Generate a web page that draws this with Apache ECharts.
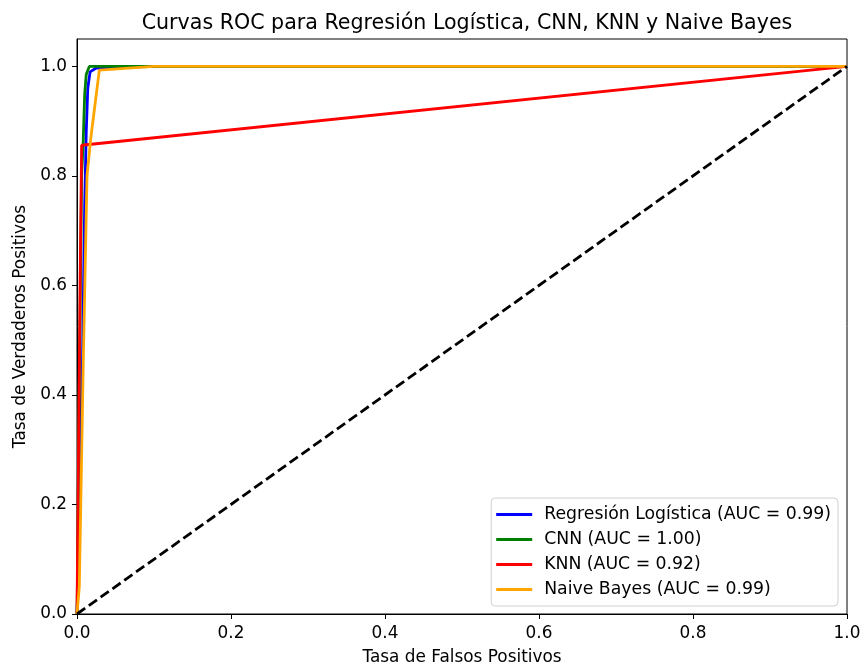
<!DOCTYPE html>
<html>
<head>
<meta charset="utf-8">
<script src="https://cdn.jsdelivr.net/npm/echarts@6/dist/echarts.min.js"></script>
<style>html,body{margin:0;padding:0;background:#fff}#c{width:861px;height:668px}</style>
</head>
<body>
<div id="c"></div>
<script>
const titleText = 'Curvas ROC para Regresión Logística, CNN, KNN y Naive Bayes';
const xName = 'Tasa de Falsos Positivos';
const yName = 'Tasa de Verdaderos Positivos';
const tickValues = [0, 0.2, 0.4, 0.6, 0.8, 1.0];

const seriesNames = [
  'Regresión Logística (AUC = 0.99)',
  'CNN (AUC = 1.00)',
  'KNN (AUC = 0.92)',
  'Naive Bayes (AUC = 0.99)'
];
const seriesColors = ['#0000ff', '#008000', '#ff0000', '#ffa500'];

// FPR / TPR per model
const lrFpr = [0, 0.002, 0.004, 0.007, 0.010, 0.012, 0.014, 0.017, 0.025, 0.10, 1];
const lrTpr = [0, 0.10, 0.30, 0.45, 0.75, 0.88, 0.96, 0.99, 0.997, 1.0, 1];
const cnnFpr = [0, 0.001, 0.002, 0.004, 0.006, 0.008, 0.010, 0.012, 0.016, 0.10, 1];
const cnnTpr = [0, 0.10, 0.30, 0.55, 0.80, 0.86, 0.95, 0.985, 1.0, 1.0, 1];
const knnFpr = [0, 0.002, 0.004, 0.006, 1];
const knnTpr = [0, 0.30, 0.60, 0.856, 1];
const nbFpr = [0, 0.003, 0.008, 0.013, 0.018, 0.029, 0.10, 1];
const nbTpr = [0, 0.05, 0.45, 0.80, 0.87, 0.993, 1.0, 1];
const diagX = [0, 1];
const diagY = [0, 1];

function pairs(xs, ys) { return xs.map((x, i) => [x, ys[i]]); }
const curves = [pairs(lrFpr, lrTpr), pairs(cnnFpr, cnnTpr), pairs(knnFpr, knnTpr), pairs(nbFpr, nbTpr)];

const font = 'DejaVu Sans';
const fs = 16.9;
const chart = echarts.init(document.getElementById('c'), null, {renderer: 'canvas'});
const series = curves.map((d, i) => ({
  name: seriesNames[i],
  type: 'line',
  data: d,
  showSymbol: false,
  symbol: 'none',
  lineStyle: {color: seriesColors[i], width: 2.8},
  itemStyle: {color: seriesColors[i]},
  animation: false,
  z: 2 + i
}));
series.push({
  name: 'diag',
  type: 'line',
  data: pairs(diagX, diagY),
  symbol: 'none',
  lineStyle: {color: '#000', width: 2.8, type: [10, 4.5]},
  animation: false,
  z: 10
});

chart.setOption({
  backgroundColor: '#fff',
  animation: false,
  title: {
    text: titleText,
    left: 462,
    top: 8,
    textAlign: 'center',
    textStyle: {fontFamily: font, fontSize: 20.6, fontWeight: 'normal', color: '#000'}
  },
  grid: {left: 77, right: 14, top: 39, bottom: 54, show: true, borderColor: '#000', borderWidth: 1, containLabel: false, outerBoundsMode: 'none'},
  legend: {
    data: seriesNames,
    orient: 'vertical',
    right: 23,
    bottom: 62,
    backgroundColor: 'rgba(255,255,255,0.8)',
    borderColor: '#d0d0d0',
    borderWidth: 1,
    borderRadius: 4,
    padding: [8, 7, 8, 5],
    itemWidth: 36,
    itemHeight: 3,
    itemGap: 8,
    icon: 'rect',
    textStyle: {fontFamily: font, fontSize: 17.3, color: '#000', padding: [0, 0, 0, 7]}
  },
  xAxis: {
    type: 'value',
    min: 0, max: 1,
    name: xName,
    nameLocation: 'middle',
    nameGap: 35,
    nameTextStyle: {fontFamily: font, fontSize: fs, color: '#000'},
    axisLine: {show: true, lineStyle: {color: '#000', width: 1}},
    axisTick: {show: true, length: 5, lineStyle: {color: '#000'}, customValues: tickValues},
    axisLabel: {fontFamily: font, fontSize: fs, color: '#000', margin: 11, customValues: tickValues, formatter: v => v.toFixed(1)},
    splitLine: {show: false}
  },
  yAxis: {
    type: 'value',
    min: 0, max: 1.05,
    name: yName,
    nameLocation: 'middle',
    nameGap: 48,
    nameTextStyle: {fontFamily: font, fontSize: fs, color: '#000'},
    axisLine: {show: true, lineStyle: {color: '#000', width: 1}},
    axisTick: {show: true, length: 5, lineStyle: {color: '#000'}, customValues: tickValues},
    axisLabel: {fontFamily: font, fontSize: fs, color: '#000', margin: 10, customValues: tickValues, formatter: v => v.toFixed(1)},
    splitLine: {show: false}
  },
  series: series
});
</script>
</body>
</html>
